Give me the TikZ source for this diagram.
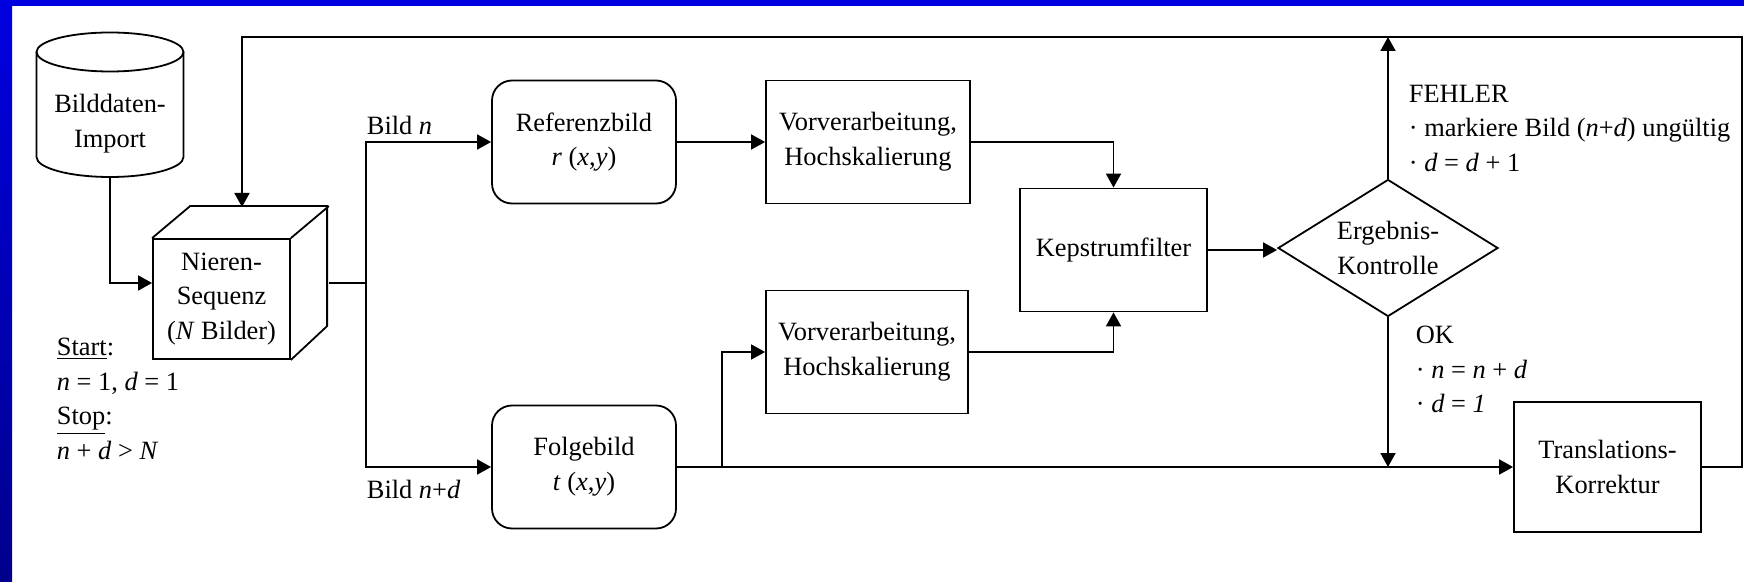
\documentclass[tikz,border=0pt]{standalone}
\usepackage{fontspec}
\setmainfont{Liberation Serif}
\usepackage{tikz}
\usetikzlibrary{shapes.geometric,arrows.meta,positioning}
\definecolor{bartop}{RGB}{0,0,224}
\definecolor{barbot}{RGB}{0,0,140}

\begin{document}
\begin{tikzpicture}[
  x=0.5pt, y=-0.5pt,
  font=\fontsize{13.2pt}{17.4pt}\selectfont,
  line width=0.9pt,
  arr/.style={-{Triangle[length=7pt,width=7.5pt]}},
  box/.style={draw, align=center, minimum width=93.5pt, minimum height=61.5pt, inner sep=0pt},
  rbox/.style={box, rounded corners=10pt, minimum width=92pt},
  note/.style={align=left, anchor=north west, inner sep=0pt},
]
\useasboundingbox (0,0) rectangle (1744,582);
\fill[bartop] (0,0) rectangle (1744,6);
\shade[top color=bartop, bottom color=barbot] (0,0) rectangle (12,582);

\node[align=center, minimum width=73.5pt, minimum height=53pt, inner sep=0pt] (imp) at (110,124) {Bilddaten-\\Import};
\draw (36.5,52) -- (36.5,157) arc[start angle=180, end angle=360, x radius=36.75pt, y radius=10pt] -- (183.5,52);
\draw (110,52) ellipse[x radius=36.75pt, y radius=9.75pt];

\node[draw, fill=white, align=center, minimum width=68.5pt, minimum height=60pt, inner sep=0pt] (seq) at (221.5,299) {Nieren-\\Sequenz\\(\textit{N} Bilder)};
\draw (seq.north west) -- ++(38,-32) -- ++(137,0) -- ++(0,120) -- (seq.south east)
  (seq.north east) -- ++(38,-32);
\coordinate (seqtop) at (242,207);
\coordinate (seqout) at ([shift={(38,-16)}]seq.east);
\coordinate (split) at (366,283);

\node[rbox] (ref) at (584,142) {Referenzbild\\\textit{r} (\textit{x},\textit{y})};
\node[rbox] (fol) at (584,467) {Folgebild\\\textit{t} (\textit{x},\textit{y})};
\node[box, minimum width=102pt] (pre1) at (868,142) {Vorverarbeitung,\\Hochskalierung};
\node[box, minimum width=101pt] (pre2) at (867,352) {Vorverarbeitung,\\Hochskalierung};
\node[box] (kep) at (1113.5,250) {Kepstrumfilter};
\node[draw, diamond, aspect=1.6, minimum width=110pt, minimum height=68.5pt, inner sep=0pt, align=center] (dia) at (1388,248) {Ergebnis-\\Kontrolle};
\node[box, minimum height=65pt] (trans) at (1607.5,467) {Translations-\\Korrektur};

\coordinate (fork) at (722,467);
\coordinate (loopR) at (1742,467);
\coordinate (loopL) at (242,37);

\draw[arr] (imp.south) |- ([yshift=8pt]seq.west);
\draw (seqout) -- (split);
\draw[arr] (split) |- (ref.west);
\draw[arr] (split) |- (fol.west);
\draw[arr] (ref) -- (pre1);
\draw[arr] (pre1.east) -| (kep.north);
\draw[arr] (pre2.east) -| (kep.south);
\draw[arr] (fol.east) -- (trans.west);
\draw[arr] (fork) |- (pre2.west);
\draw[arr] (kep.east) -- (kep.east -| dia.west);
\draw[arr] (dia.north) -- (dia.north |- loopL);
\draw[arr] (dia.south) -- (dia.south |- fol.east);
\draw[arr] (trans.east) -- (loopR) |- (loopL) -- (seqtop);

\node[anchor=base west, inner sep=0pt] (lbln) at ([yshift=3.5pt]split |- ref.west) {Bild \textit{n}};
\node[anchor=base west, inner sep=0pt] (lblnd) at ([yshift=-15.5pt]split |- fol.west) {Bild \textit{n}+\textit{d}};
\node[note] (startstop) at (56,337) {\underline{Start}:\\\textit{n} = 1, \textit{d} = 1\\\underline{Stop}:\\\textit{n} + \textit{d} > \textit{N}};
\node[note] (fehler) at (1408,84) {FEHLER\\· markiere Bild (\textit{n}+\textit{d}) ungültig\\· \textit{d} = \textit{d} + 1};
\node[note] (ok) at (1415,325) {OK\\· \textit{n} = \textit{n} + \textit{d}\\· \textit{d} = \textit{1}};
\end{tikzpicture}
\end{document}
